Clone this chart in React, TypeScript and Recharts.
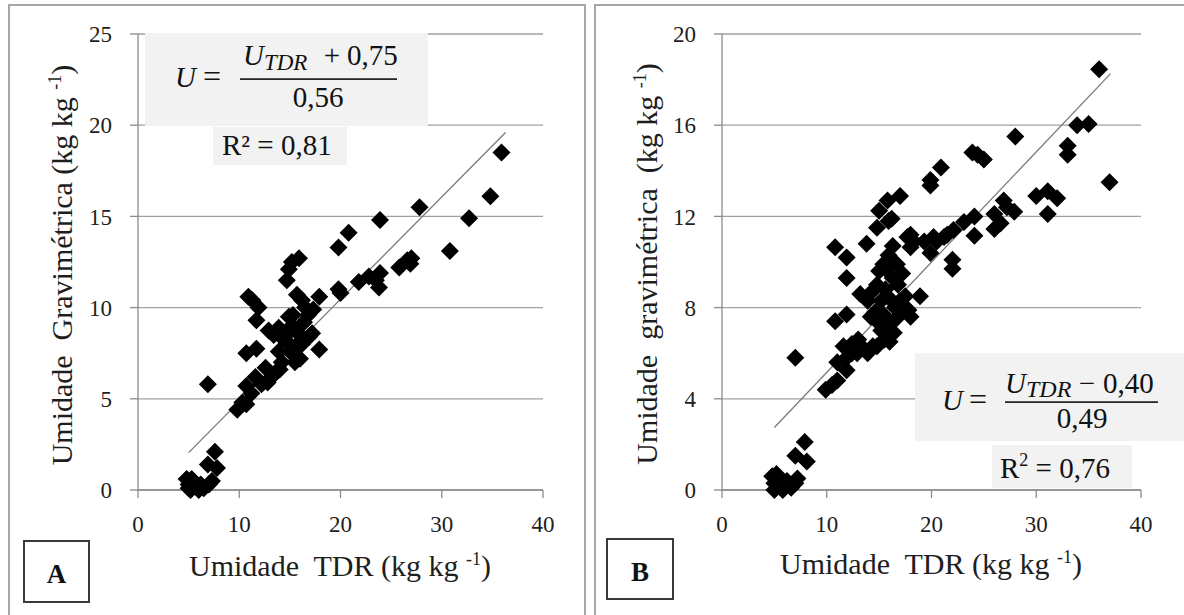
import React from 'react';
import { ScatterChart, Scatter, XAxis, YAxis, CartesianGrid, ReferenceLine } from 'recharts';

// ---------- Data ----------
// Panel A
const aTdr = [
  4.8, 5, 5, 5.2, 5.5, 5.6, 6, 6.2, 6.5, 7, 7.3, 6.9, 7.6, 7.8, 5.3,
  6.9,
  9.8, 10.3, 10.7, 11.2, 10.7, 11.6, 12.2, 12.6, 13.2, 12.8, 13.5, 14, 14.2, 13.9, 14.6, 15, 15.5, 16, 15.6, 16.2, 16.9, 17.2, 17.9,
  14.8, 15.2, 15.8, 16.4, 16.8, 17.3, 16.5, 15.7, 16.2, 14.9, 13.9, 12.9, 13.4, 14.3, 15.3,
  10.7, 11.7, 11.7, 10.9, 11.9, 11.3, 14.7, 14.9, 15.2, 15.9, 17.9,
  19.8, 20.8, 23.9, 27.8, 19.8, 20, 21.8, 22.8, 23.5, 23.8, 23.9, 25.8, 26.6, 26.9, 27, 30.8, 32.7, 34.8, 35.9,
];
const aGrav = [
  0.6, 0.3, 0.1, 0.0, 0.4, 0.2, 0.0, 0.3, 0.1, 0.3, 0.5, 1.4, 2.1, 1.2, 0.6,
  5.8,
  4.4, 4.8, 4.7, 5.3, 5.7, 6.2, 5.8, 6.7, 6.2, 5.9, 6.4, 6.6, 7.0, 7.6, 8.2, 7.6, 7.0, 7.2, 7.9, 8.0, 8.4, 8.6, 7.7,
  8.6, 9.0, 8.6, 9.2, 9.6, 9.9, 10.0, 10.7, 10.4, 9.5, 8.9, 8.75, 8.5, 8.3, 9.6,
  7.5, 7.75, 9.3, 10.6, 10.0, 10.4, 11.5, 12.1, 12.5, 12.7, 10.6,
  13.3, 14.1, 14.8, 15.5, 11.0, 10.8, 11.4, 11.7, 11.5, 11.1, 11.9, 12.2, 12.6, 12.4, 12.7, 13.1, 14.9, 16.1, 18.5,
];
const aTrendX = [5, 36.3];
const aTrendY = [2.05, 19.6];

// Panel B
const bTdr = [
  4.8, 5, 5, 5.3, 5.5, 5.8, 6, 6.2, 6.6, 7, 7.2, 7, 7.9, 8.1, 5.2,
  7,
  9.9, 10.5, 11, 11, 11.9, 11.9, 12.4, 12.9, 13.3, 13.9, 14.4, 14.8, 15.5, 16.4, 15.8, 14.8, 15.2, 16, 13, 12.4, 11.6,
  10.8, 11.9, 13.2, 13.9, 14.3, 14.8, 15, 15.4, 15.9, 16.3, 16.7, 17.2, 17.5, 17, 16.5, 16, 15.6, 15.2, 14.6, 16.3, 15.6, 17.3, 17.8, 18, 18.9, 16.8, 14.2, 15.4, 16.6,
  10.8, 11.9, 11.9, 13.8, 14.8, 15, 15.8, 15.9, 17, 16.2,
  18, 18, 19.3, 20.2, 19.9, 17.7, 18.3, 19.9, 19.9, 20.9, 21.2, 22.1, 23.1, 24.1, 24.1, 22, 22, 23.9, 25, 24.4,
  26, 26.6, 26, 26.9, 27.9, 27.2, 28, 30, 31.1, 32, 31.1, 33, 33, 33.9, 35, 36, 37, 20.5, 21.5,
];
const bGrav = [
  0.6, 0.3, 0.0, 0.2, 0.5, 0.0, 0.2, 0.4, 0.1, 0.3, 0.5, 1.5, 2.1, 1.25, 0.7,
  5.8,
  4.4, 4.6, 4.8, 5.6, 5.8, 5.25, 6.0, 6.0, 6.3, 6.0, 6.3, 6.3, 6.6, 6.9, 7.3, 7.4, 7.0, 6.5, 6.6, 6.4, 6.3,
  7.4, 7.7, 8.6, 8.3, 8.7, 9.0, 9.6, 9.9, 10.3, 10.7, 9.9, 9.5, 8.5, 8.3, 8.0, 8.4, 8.8, 8.3, 7.8, 9.3, 9.7, 7.9, 7.9, 7.6, 8.5, 9.0, 7.6, 7.7, 7.5,
  10.65, 10.2, 9.3, 10.8, 11.5, 12.25, 12.7, 11.8, 12.9, 11.9,
  11.2, 10.65, 10.9, 11.1, 10.4, 11.1, 10.9, 13.35, 13.6, 14.15, 11.1, 11.4, 11.75, 12.0, 11.15, 10.1, 9.7, 14.8, 14.5, 14.7,
  12.1, 11.7, 11.45, 12.7, 12.2, 12.4, 15.5, 12.9, 13.1, 12.8, 12.1, 15.1, 14.7, 16.0, 16.05, 18.45, 13.5, 10.9, 11.2,
];
const bTrendX = [5, 37.1];
const bTrendY = [2.74, 18.26];

const xTicks = [0, 10, 20, 30, 40];
const aYTicks = [0, 5, 10, 15, 20, 25];
const bYTicks = [0, 4, 8, 12, 16, 20];

const aPoints = aTdr.map((x, i) => ({ x, y: aGrav[i] }));
const bPoints = bTdr.map((x, i) => ({ x, y: bGrav[i] }));

const SERIF = "'Liberation Serif', 'Times New Roman', serif";
const AXIS = '#8c8c8c';
const GRID = '#a0a0a0';
const TICK_FILL = '#1e1e1e';
const TICK_SIZE = 8;
const TICK_GAP = 18;
const TOP = 34;
const BOTTOM_Y = 490;

const Diamond = (props: any) => {
  const { cx, cy } = props;
  const r = 9;
  return (
    <polygon
      points={`${cx},${cy - r} ${cx + r},${cy} ${cx},${cy + r} ${cx - r},${cy}`}
      fill="#000"
    />
  );
};

const makeYTick = (axisX: number) => (p: any) => {
  const y = p.y;
  return (
    <g>
      <line x1={axisX - TICK_SIZE} x2={axisX} y1={y} y2={y} stroke={AXIS} strokeWidth={1.3} />
      <text
        x={axisX - TICK_SIZE - TICK_GAP}
        y={y}
        dy="0.355em"
        textAnchor="end"
        fontSize={23}
        fontFamily={SERIF}
        fill={TICK_FILL}
      >
        {p.payload.value}
      </text>
    </g>
  );
};

const makeXTick = (axisY: number) => (p: any) => {
  const x = p.x;
  return (
    <g>
      <line x1={x} x2={x} y1={axisY} y2={axisY + TICK_SIZE} stroke={AXIS} strokeWidth={1.3} />
      <text
        x={x}
        y={axisY + TICK_SIZE + TICK_GAP}
        dy="0.71em"
        textAnchor="middle"
        fontSize={23}
        fontFamily={SERIF}
        fill={TICK_FILL}
      >
        {p.payload.value}
      </text>
    </g>
  );
};

type PanelProps = {
  left: number;
  width: number;
  axisX: number;
  marginRight: number;
  yMax: number;
  yTicks: number[];
  points: { x: number; y: number }[];
  trendX: number[];
  trendY: number[];
};

function Panel({ left, width, axisX, marginRight, yMax, yTicks, points, trendX, trendY }: PanelProps) {
  return (
    <div style={{ position: 'absolute', left, top: 0 }}>
      <ScatterChart
        width={width}
        height={615}
        margin={{ top: TOP, right: marginRight, bottom: 615 - BOTTOM_Y - 30, left: axisX - 60 }}
      >
        <CartesianGrid vertical={false} stroke={GRID} strokeWidth={1.3} />
        <XAxis
          type="number"
          dataKey="x"
          domain={[0, 40]}
          ticks={xTicks}
          height={30}
          axisLine={{ stroke: AXIS, strokeWidth: 1.3 }}
          tickLine={false}
          tick={makeXTick(BOTTOM_Y)}
        />
        <YAxis
          type="number"
          dataKey="y"
          domain={[0, yMax]}
          ticks={yTicks}
          width={60}
          axisLine={{ stroke: AXIS, strokeWidth: 1.3 }}
          tickLine={false}
          tick={makeYTick(axisX)}
        />
        <Scatter data={points} shape={Diamond} isAnimationActive={false} />
        <ReferenceLine
          segment={[
            { x: trendX[0], y: trendY[0] },
            { x: trendX[1], y: trendY[1] },
          ]}
          stroke="#7a7a7a"
          strokeWidth={1.3}
          ifOverflow="visible"
        />
      </ScatterChart>
    </div>
  );
}

function Overlay() {
  const eq = { fontFamily: SERIF, fill: '#111' };
  return (
    <svg
      width={1184}
      height={615}
      style={{ position: 'absolute', left: 0, top: 0, pointerEvents: 'none' }}
    >
      {/* panel frames */}
      <rect x={9} y={5} width={576} height={700} fill="none" stroke="#a6a6a6" strokeWidth={2} />
      <rect x={595} y={5} width={620} height={700} fill="none" stroke="#a6a6a6" strokeWidth={2} />

      {/* Panel A equation */}
      <rect x={145} y={33} width={283} height={93} fill="#f2f2f2" />
      <text x={175} y={87} fontSize={29} fontStyle="italic" {...eq}>U</text>
      <text x={212} y={87} fontSize={32} textAnchor="middle" {...eq}>=</text>
      <text x={243} y={65} fontSize={29} fontStyle="italic" {...eq}>
        U<tspan fontSize={23} dy={5}>TDR</tspan>
      </text>
      <text x={332} y={65} fontSize={29} textAnchor="middle" {...eq}>+</text>
      <text x={347} y={65} fontSize={29} {...eq}>0,75</text>
      <rect x={240} y={78.3} width={157} height={1.6} fill="#111" />
      <text x={318} y={107} fontSize={29} textAnchor="middle" {...eq}>0,56</text>
      <rect x={213} y={127} width={134} height={38} fill="#f2f2f2" />
      <text x={222} y={155} fontSize={29} {...eq}>R² = 0,81</text>

      {/* Panel B equation */}
      <rect x={915} y={353} width={270} height={88} fill="#f2f2f2" />
      <text x={942} y={410} fontSize={29} fontStyle="italic" {...eq}>U</text>
      <text x={978} y={410} fontSize={32} textAnchor="middle" {...eq}>=</text>
      <text x={1005} y={393} fontSize={29} fontStyle="italic" {...eq}>
        U<tspan fontSize={24} dy={4}>TDR</tspan>
      </text>
      <text x={1087} y={393} fontSize={29} textAnchor="middle" {...eq}>−</text>
      <text x={1103} y={393} fontSize={29} {...eq}>0,40</text>
      <rect x={1005} y={401.3} width={153} height={1.6} fill="#111" />
      <text x={1082} y={428} fontSize={29} textAnchor="middle" {...eq}>0,49</text>
      <rect x={992} y={445} width={140} height={43} fill="#f2f2f2" />
      <text x={1000} y={478} fontSize={29} {...eq}>
        R<tspan fontSize={18} dy={-12}>2</tspan>
        <tspan dy={12}> = 0,76</tspan>
      </text>

      {/* Axis titles A */}
      <text x={340} y={576} fontSize={30} textAnchor="middle" fontFamily={SERIF} fill="#1e1e1e" xmlSpace="preserve">
        {'Umidade  TDR (kg kg '}
        <tspan fontSize={18} dy={-11}>-1</tspan>
        <tspan dy={11}>)</tspan>
      </text>
      <text
        x={72}
        y={265}
        fontSize={30}
        textAnchor="middle"
        fontFamily={SERIF}
        fill="#1e1e1e"
        xmlSpace="preserve"
        transform="rotate(-90 72 265)"
      >
        {'Umidade  Gravimétrica (kg kg '}
        <tspan fontSize={18} dy={-11}>-1</tspan>
        <tspan dy={11}>)</tspan>
      </text>

      {/* Axis titles B */}
      <text x={931} y={574} fontSize={30} textAnchor="middle" fontFamily={SERIF} fill="#1e1e1e" xmlSpace="preserve">
        {'Umidade  TDR (kg kg '}
        <tspan fontSize={18} dy={-11}>-1</tspan>
        <tspan dy={11}>)</tspan>
      </text>
      <text
        x={657}
        y={264}
        fontSize={30}
        textAnchor="middle"
        fontFamily={SERIF}
        fill="#1e1e1e"
        xmlSpace="preserve"
        transform="rotate(-90 657 264)"
      >
        {'Umidade  gravimétrica  (kg kg '}
        <tspan fontSize={18} dy={-11}>-1</tspan>
        <tspan dy={11}>)</tspan>
      </text>

      {/* Panel labels */}
      <rect x={24} y={541} width={65} height={61} fill="#fff" stroke="#3a3a3a" strokeWidth={2} />
      <text x={56.5} y={583} fontSize={27} fontWeight="bold" textAnchor="middle" fontFamily={SERIF} fill="#111">A</text>
      <rect x={607} y={539} width={66} height={60} fill="#fff" stroke="#3a3a3a" strokeWidth={2} />
      <text x={640} y={581} fontSize={27} fontWeight="bold" textAnchor="middle" fontFamily={SERIF} fill="#111">B</text>
    </svg>
  );
}

export default function App() {
  return (
    <div
      style={{
        position: 'absolute',
        left: 0,
        top: 0,
        width: 1184,
        height: 615,
        overflow: 'hidden',
        background: '#fff',
      }}
    >
      <Panel
        left={0}
        width={590}
        axisX={138}
        marginRight={47}
        yMax={25}
        yTicks={aYTicks}
        points={aPoints}
        trendX={aTrendX}
        trendY={aTrendY}
      />
      <Panel
        left={590}
        width={594}
        axisX={132}
        marginRight={43}
        yMax={20}
        yTicks={bYTicks}
        points={bPoints}
        trendX={bTrendX}
        trendY={bTrendY}
      />
      <Overlay />
    </div>
  );
}
